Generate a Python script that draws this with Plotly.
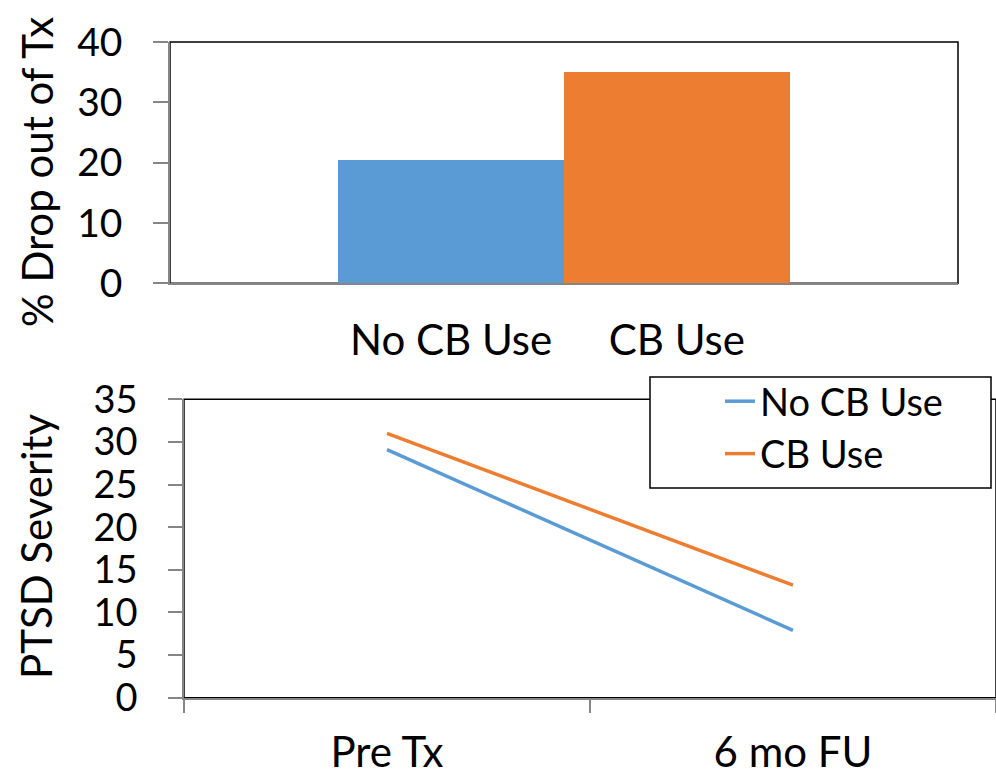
import plotly.graph_objects as go

# Drop-out rates by cannabis use
groups = ["No CB Use", "CB Use"]
dropout_pct = [20.4, 35.1]

# PTSD severity before treatment and at 6-month follow-up
timepoints = ["Pre Tx", "6 mo FU"]
severity_no_cb = [29.1, 7.9]
severity_cb = [31.0, 13.2]

colors = ["#5B9BD5", "#ED7D31"]
AXIS_GRAY = "#868686"
FONT = "Lato"
W, H = 996, 775


def px_x(x):
    return x / W


def px_y(y):
    return 1 - y / H


fig = go.Figure()

# top panel: bars
for i, (g, v) in enumerate(zip(groups, dropout_pct)):
    fig.add_trace(go.Bar(
        x=[g], y=[v], marker=dict(color=colors[i], line=dict(width=0)),
        width=1.0, showlegend=False, xaxis="x", yaxis="y",
    ))

# bottom panel: lines
for name, vals, c in [("No CB Use", severity_no_cb, colors[0]),
                      ("CB Use", severity_cb, colors[1])]:
    fig.add_trace(go.Scatter(
        x=timepoints, y=vals, mode="lines", name=name,
        line=dict(color=c, width=3.5), xaxis="x2", yaxis="y2",
    ))

top_dom_x = [px_x(170), px_x(958)]
top_dom_y = [px_y(283.3), px_y(42)]
bot_dom_x = [px_x(184), 1.0]
bot_dom_y = [px_y(697.7), px_y(399.3)]

fig.update_layout(
    template="none",
    width=W, height=H,
    margin=dict(l=0, r=0, t=0, b=0, pad=0),
    paper_bgcolor="white", plot_bgcolor="white",
    font=dict(family=FONT, color="black"),
    barmode="overlay",
    bargap=0,
    xaxis=dict(
        domain=top_dom_x, anchor="y", type="category", automargin=False,
        range=[-1.245, 2.245], showgrid=False, zeroline=False,
        showline=True, linecolor=AXIS_GRAY, linewidth=1.5,
        ticks="", tickfont=dict(family=FONT, size=42, color="black"),
        ticklabelstandoff=20,
    ),
    xaxis3=dict(
        domain=top_dom_x, anchor="y", overlaying="x", range=[0, 1],
        automargin=False,
        tickvals=[0, 1], ticks="outside", ticklen=15, tickwidth=1.5,
        tickcolor=AXIS_GRAY, showticklabels=False, showgrid=False,
        zeroline=False, showline=False,
    ),
    yaxis=dict(
        domain=top_dom_y, anchor="x", range=[0, 40], dtick=10,
        automargin=False,
        showgrid=False, zeroline=False, showline=True,
        linecolor=AXIS_GRAY, linewidth=1.5, ticks="outside",
        ticklen=15, tickwidth=1.5, tickcolor=AXIS_GRAY,
        tickfont=dict(family=FONT, size=39, color="black"),
        ticklabelstandoff=23,
    ),
    xaxis2=dict(
        domain=bot_dom_x, anchor="y2", type="category", automargin=False,
        range=[-0.5, 1.5], showgrid=False, zeroline=False,
        showline=True, linecolor=AXIS_GRAY, linewidth=1.5,
        ticks="outside", tickson="boundaries", ticklen=14, tickwidth=1.5,
        tickcolor=AXIS_GRAY,
        tickfont=dict(family=FONT, size=42, color="black"),
        ticklabelstandoff=17,
    ),
    yaxis2=dict(
        domain=bot_dom_y, anchor="x2", range=[0, 35], dtick=5,
        automargin=False,
        showgrid=False, zeroline=False, showline=True,
        linecolor=AXIS_GRAY, linewidth=1.5, ticks="outside",
        ticklen=14, tickwidth=1.5, tickcolor=AXIS_GRAY,
        tickfont=dict(family=FONT, size=38, color="black"),
        ticklabelstandoff=23,
    ),
    legend=dict(
        x=px_x(720), y=px_y(370), xanchor="left", yanchor="top",
        bgcolor="rgba(0,0,0,0)", borderwidth=0,
        font=dict(family=FONT, size=38, color="black"),
        tracegroupgap=0,
    ),
    showlegend=True,
)

# plot-area frames
for xr, yr in [("x domain", "y domain"), ("x2 domain", "y2 domain")]:
    fig.add_shape(type="rect", xref=xr, yref=yr, x0=0, x1=1, y0=0, y1=1,
                  line=dict(color="black", width=1.5), layer="below")

# legend box
fig.add_shape(type="rect", xref="paper", yref="paper",
              x0=px_x(650), x1=px_x(991), y0=px_y(488), y1=px_y(377),
              line=dict(color="black", width=1.5), fillcolor="white",
              layer="above")

# axis titles
fig.add_annotation(text="% Drop out of Tx", xref="paper", yref="paper",
                   x=px_x(37), y=px_y(172), textangle=-90, showarrow=False,
                   xanchor="center", yanchor="middle",
                   font=dict(family=FONT, size=42, color="black"))
fig.add_annotation(text="PTSD Severity", xref="paper", yref="paper",
                   x=px_x(36), y=px_y(547), textangle=-90, showarrow=False,
                   xanchor="center", yanchor="middle",
                   font=dict(family=FONT, size=42, color="black"))

fig.write_html("out.html")
